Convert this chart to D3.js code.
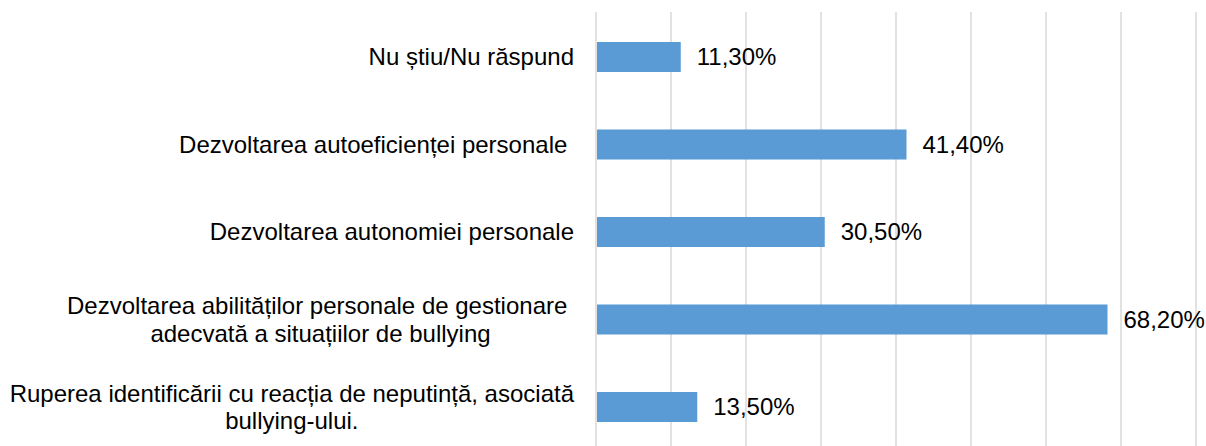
<!DOCTYPE html>
<html>
<head>
<meta charset="utf-8">
<script src="https://cdn.jsdelivr.net/npm/d3@7"></script>
<style>
  body { margin: 0; background: #fff; }
  svg text { font-family: "Liberation Sans", Arial, sans-serif; fill: #000; }
</style>
</head>
<body>
<svg id="chart" width="1206" height="446"></svg>
<script>
// categories top to bottom, each label split into its lines
var categories = [
    ["Nu știu/Nu răspund"],
    ["Dezvoltarea autoeficienței personale "],
    ["Dezvoltarea autonomiei personale"],
    ["Dezvoltarea abilităților personale de gestionare ", "adecvată a situațiilor de bullying"],
    ["Ruperea identificării cu reacția de neputință, asociată", "bullying-ului."]
];
var values = [11.3, 41.4, 30.5, 68.2, 13.5];
var gridTicks = [0, 10, 20, 30, 40, 50, 60, 70, 80];

var svg = d3.select("#chart");
var fontSize = 24;
var lineHeight = 27.5;

var x = d3.scaleLinear().domain([0, 80]).range([596, 1196]);
var y = d3.scaleBand()
    .domain(d3.range(categories.length))
    .range([13.25, 450.75])
    .paddingInner(0.657)
    .paddingOuter(0.3285);

// vertical gridlines
svg.append("g").selectAll("line")
    .data(gridTicks)
    .enter()
    .append("line")
    .attr("x1", function(d) { return x(d); })
    .attr("x2", function(d) { return x(d); })
    .attr("y1", 12)
    .attr("y2", 446)
    .attr("stroke", "#d9d9d9")
    .attr("stroke-width", 1.5);

// bars
svg.append("g").selectAll("rect")
    .data(values)
    .enter()
    .append("rect")
    .attr("x", x(0) + 1)
    .attr("y", function(d, i) { return y(i); })
    .attr("width", function(d) { return x(d) - x(0) - 1; })
    .attr("height", y.bandwidth())
    .attr("fill", "#5b9bd5");

// value labels
svg.append("g").selectAll("text")
    .data(values)
    .enter()
    .append("text")
    .attr("x", function(d) { return x(d) + 16; })
    .attr("y", function(d, i) { return y(i) + y.bandwidth() / 2; })
    .attr("dy", "0.35em")
    .attr("font-size", fontSize)
    .text(function(d) { return d.toFixed(2).replace(".", ",") + "%"; });

// category labels: block right-aligned at 574, lines centred inside block
var labelRight = 574;
var labels = svg.append("g").selectAll("g")
    .data(categories)
    .enter()
    .append("g");

labels.each(function(lines, i) {
    var g = d3.select(this);
    var cy = y(i) + y.bandwidth() / 2;
    var top = cy - (lines.length - 1) * lineHeight / 2;
    var texts = g.selectAll("text")
        .data(lines)
        .enter()
        .append("text")
        .attr("y", function(d, j) { return top + j * lineHeight; })
        .attr("dy", "0.35em")
        .attr("font-size", fontSize)
        .attr("text-anchor", "middle")
        .style("white-space", "pre")
        .text(function(d) { return d; });
    var maxW = 0;
    texts.each(function() { maxW = Math.max(maxW, this.getComputedTextLength()); });
    texts.attr("x", labelRight - maxW / 2);
});
</script>
</body>
</html>
